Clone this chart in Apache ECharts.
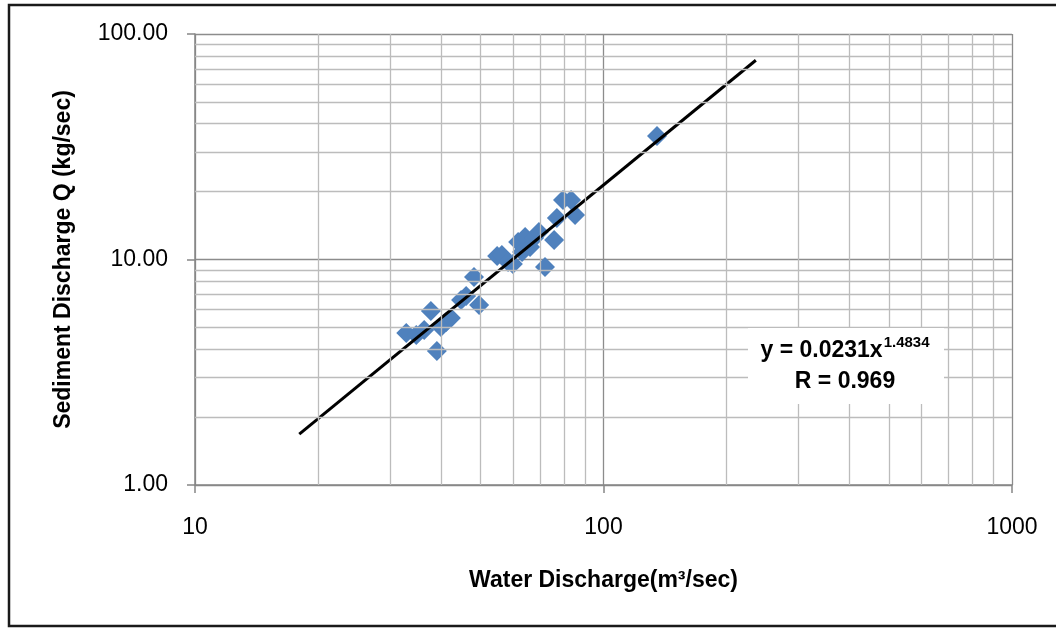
<!DOCTYPE html>
<html><head><meta charset="utf-8">
<script src="https://cdn.jsdelivr.net/npm/echarts@6/dist/echarts.min.js"></script>
<style>html,body{margin:0;padding:0;background:#fff}#c{width:1056px;height:628px}</style>
</head><body><div id="c"></div>
<script>
const waterDischarge = [32.9, 34.8, 36.4, 37.8, 39.1, 40.0, 41.2, 42.3, 44.8, 46.1, 48.2, 49.6,
  54.9, 56.4, 58.4, 60.0, 61.8, 63.2, 64.3, 66.1, 67.6, 69.5, 71.9, 75.7, 76.9, 79.6, 83.3, 85.2, 135.2];
const sedimentDischarge = [4.72, 4.63, 4.87, 5.91, 3.93, 5.02, 5.28, 5.50, 6.61, 6.89, 8.36, 6.28,
  10.36, 10.47, 9.75, 9.55, 11.96, 10.80, 12.58, 11.36, 12.45, 13.24, 9.26, 12.20, 15.28, 18.36, 18.36, 15.75, 35.3];
// Power-law fit shown on the chart
const fitA = 0.0231, fitB = 1.4834, fitR = 0.969;
const fitRange = [18, 236];
// Axis ticks / grid
const xTicks = [10, 100, 1000];
const yTicks = [1, 10, 100];
const xMinorGrid = [20, 30, 40, 50, 60, 70, 80, 90, 200, 300, 400, 500, 600, 700, 800, 900];
const yMinorGrid = [2, 3, 4, 5, 6, 7, 8, 9, 20, 30, 40, 50, 60, 70, 80, 90];

const points = waterDischarge.map((x, i) => [x, sedimentDischarge[i]]);
const fitLine = fitRange.map(x => [x, fitA * Math.pow(x, fitB)]);
const FONT = '"Liberation Sans", Arial, sans-serif';

// measure equation parts to place the superscript right after the main text
const mctx = document.createElement('canvas').getContext('2d');
const eqMain = 'y = 0.0231x', eqSup = String(fitB);
const eqFont = 'bold 23px ' + FONT, supFont = 'bold 15px ' + FONT;
mctx.font = eqFont; const wMain = mctx.measureText(eqMain).width;
mctx.font = supFont; const wSup = mctx.measureText(eqSup).width;
const eqCenter = 845, eqLeft = eqCenter - (wMain + 1 + wSup) / 2;

const chart = echarts.init(document.getElementById('c'), null, {renderer: 'canvas'});
chart.setOption({
  animation: false,
  backgroundColor: '#ffffff',
  grid: {left: 195, right: 44, top: 34, bottom: 143, containLabel: false},
  xAxis: {
    type: 'log', logBase: 10, min: xTicks[0], max: xTicks[xTicks.length - 1],
    name: 'Water Discharge(m³/sec)', nameLocation: 'middle', nameGap: 84,
    nameTextStyle: {fontFamily: FONT, fontWeight: 'bold', fontSize: 23, color: '#000'},
    axisLine: {show: true, lineStyle: {color: '#868686', width: 1.5}},
    axisTick: {show: true, length: 8, lineStyle: {color: '#868686', width: 1.5}},
    axisLabel: {fontFamily: FONT, fontSize: 23, color: '#000', margin: 31,
      formatter: v => String(Math.round(v))},
    splitLine: {show: true, lineStyle: {color: '#8c8c8c', width: 1.3}}
  },
  yAxis: {
    type: 'log', logBase: 10, min: yTicks[0], max: yTicks[yTicks.length - 1],
    name: 'Sediment Discharge Q (kg/sec)', nameLocation: 'middle', nameGap: 120,
    nameTextStyle: {fontFamily: FONT, fontWeight: 'bold', fontSize: 23, color: '#000'},
    axisLine: {show: true, lineStyle: {color: '#868686', width: 1.5}},
    axisTick: {show: true, length: 8, lineStyle: {color: '#868686', width: 1.5}},
    axisLabel: {fontFamily: FONT, fontSize: 23, color: '#000', margin: 27,
      formatter: v => Number(v).toFixed(2)},
    splitLine: {show: true, lineStyle: {color: '#8c8c8c', width: 1.3}}
  },
  series: [
    {
      type: 'line', data: [], silent: true,
      markLine: {
        silent: true, symbol: ['none', 'none'], label: {show: false},
        lineStyle: {color: '#bcbcbc', width: 1.3, type: 'solid'},
        data: xMinorGrid.map(v => ({xAxis: v})).concat(yMinorGrid.map(v => ({yAxis: v})))
      }
    },
    {
      type: 'scatter', data: points, symbol: 'diamond', symbolSize: 20,
      itemStyle: {color: '#4f81bd', opacity: 1}, z: 3
    },
    {
      type: 'line', data: fitLine, showSymbol: false, symbol: 'none',
      lineStyle: {color: '#000', width: 3}, z: 4
    }
  ],
  graphic: [
    {type: 'rect', shape: {x: 9, y: 5, width: 1060, height: 621},
      style: {fill: 'none', stroke: '#1a1a1a', lineWidth: 2.5}, silent: true, z: 100},
    {type: 'rect', shape: {x: 748, y: 328, width: 196, height: 76},
      style: {fill: '#fff'}, silent: true, z: 50},
    {type: 'text', x: eqLeft, y: 351, z: 51,
      style: {text: eqMain, font: eqFont, fill: '#000', textVerticalAlign: 'middle'}},
    {type: 'text', x: eqLeft + wMain + 1, y: 343, z: 51,
      style: {text: eqSup, font: supFont, fill: '#000', textVerticalAlign: 'middle'}},
    {type: 'text', x: 845, y: 382, z: 51,
      style: {text: 'R = ' + fitR, font: eqFont, fill: '#000', textAlign: 'center', textVerticalAlign: 'middle'}}
  ]
});
</script></body></html>
